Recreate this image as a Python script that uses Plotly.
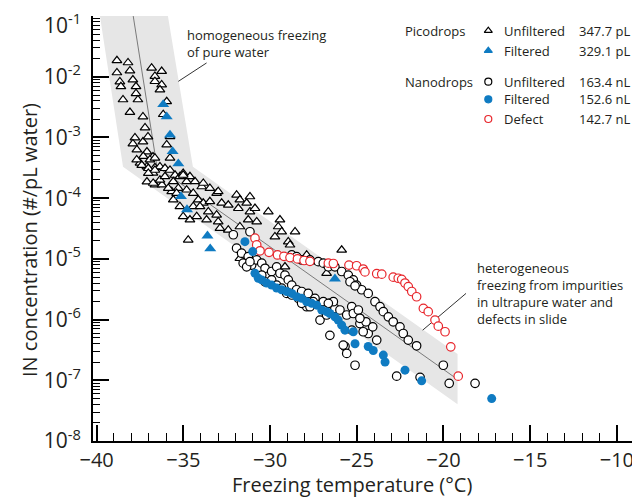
import plotly.graph_objects as go

# ---------------- data ----------------
pico_unf_T = [-38.83, -38.19, -38.83, -38.08, -37.91, -38.66, -38.60, -38.48, -37.73, -37.73,
              -37.62, -38.08, -37.33, -37.21, -37.79, -37.33, -37.04, -37.91, -37.68, -37.10,
              -36.75, -37.50, -37.10, -36.64, -36.35, -36.75, -37.10, -36.64, -36.23, -36.83,
              -36.25, -36.64, -36.64, -36.25, -36.35, -35.96, -36.16, -35.77, -35.77, -35.96,
              -37.31, -36.93, -36.64, -37.40, -37.02, -36.64, -36.06, -35.77, -35.48, -36.74,
              -36.35, -36.06, -35.58, -35.20, -35.01, -34.81, -34.33, -33.94, -33.47, -33.08,
              -35.67, -35.29, -34.81, -34.43, -34.14, -33.85, -33.47, -35.58, -35.20, -34.43,
              -34.04, -33.56, -33.08, -35.01, -34.62, -34.23, -33.66, -32.99, -32.89, -32.41,
              -31.74, -32.79, -32.41, -31.93, -31.74, -31.35, -31.16, -31.83, -31.16, -30.87,
              -31.26, -30.77, -30.10, -29.43, -29.53, -29.72, -29.33, -34.72, -28.56, -28.95,
              -28.85, -31.74, -29.14, -27.89, -27.70, -25.87, -26.74, -37.69, -37.02, -35.87,
              -35.39, -34.62, -33.85, -32.99, -35.01]
pico_unf_N = [1.85e-2, 1.71e-2, 1.17e-2, 1.26e-2, 8.9e-3, 8.3e-3, 6.9e-3, 4.2e-3, 6.9e-3, 5.3e-3,
              4.2e-3, 2.6e-3, 2.2e-3, 1.45e-3, 9.9e-4, 8.5e-4, 1.03e-3, 7.9e-4, 6.3e-4, 5.8e-4,
              4.8e-4, 3.8e-4, 3.3e-4, 3.2e-4, 3.3e-4, 2.6e-4, 1.86e-4, 1.66e-4, 1.66e-4, 1.40e-2,
              1.23e-2, 1.02e-2, 8.4e-3, 7.4e-3, 6.1e-3, 3.9e-3, 2.4e-3, 1.04e-3, 4.6e-4, 7.6e-4,
              4.9e-4, 4.3e-4, 4.6e-4, 3.5e-4, 3.1e-4, 2.9e-4, 3.1e-4, 2.9e-4, 2.4e-4, 1.77e-4,
              2.0e-4, 2.27e-4, 1.88e-4, 2.27e-4, 2.58e-4, 1.88e-4, 1.88e-4, 1.55e-4, 1.46e-4, 1.21e-4,
              1.29e-4, 1.46e-4, 1.37e-4, 1.21e-4, 9.4e-5, 8.3e-5, 8.8e-5, 9.4e-5, 7.3e-5, 7.3e-5,
              7.3e-5, 6.0e-5, 5.3e-5, 5.0e-5, 4.4e-5, 5.0e-5, 4.4e-5, 4.1e-5, 3.2e-5, 3.0e-5,
              3.4e-5, 8.3e-5, 7.7e-5, 1.13e-4, 9.4e-5, 8.3e-5, 1.06e-4, 6.8e-5, 6.0e-5, 6.8e-5,
              4.4e-5, 4.1e-5, 6.0e-5, 4.4e-5, 3.4e-5, 2.32e-5, 2.8e-5, 2.05e-5, 2.8e-5, 1.92e-5,
              1.7e-5, 1.02e-5, 7.4e-6, 1.16e-5, 9.0e-6, 1.4e-5, 5.8e-6, 4.3e-4, 2.58e-4, 1.46e-4,
              1.21e-4, 2.27e-4, 1.77e-4, 1.29e-4, 2.4e-4]

pico_fil_T = [-36.16, -35.96, -35.77, -35.62, -35.29, -35.14, -34.79, -33.61, -33.45, -26.26]
pico_fil_N = [3.5e-3, 2.2e-3, 1.1e-3, 5.9e-4, 3.7e-4, 1.07e-4, 6.5e-5, 2.4e-5, 1.47e-5, 4.7e-6]

nano_unf_T = [-32.12, -31.16, -31.93, -31.64, -31.26, -31.06, -30.77, -30.48, -30.29, -29.91,
              -29.62, -29.43, -29.14, -28.95, -28.75, -28.47, -28.18, -27.80, -27.41, -26.93,
              -26.55, -26.26, -25.97, -25.58, -28.75, -28.47, -28.18, -27.70, -27.22, -26.93,
              -26.64, -26.26, -25.87, -25.49, -25.20, -25.01, -24.72, -24.34, -23.95, -23.66,
              -23.47, -23.18, -22.90, -22.51, -22.32, -22.03, -21.55, -20.01, -19.67, -18.18,
              -22.70, -21.35, -25.10, -25.68, -25.58, -26.55, -24.82, -24.34, -23.85, -24.63,
              -25.29, -25.20, -27.12, -27.89, -27.51, -26.35, -26.64, -30.48, -30.29, -29.91,
              -29.62, -29.33, -29.04, -28.75, -28.37, -28.18, -27.70, -26.93, -26.74, -31.55,
              -31.35, -31.16, -25.78, -25.29, -24.08, -24.47, -24.91, -24.82, -25.39, -25.10]
nano_unf_N = [2.5e-5, 2.8e-5, 1.5e-5, 1.24e-5, 1.09e-5, 7.9e-6, 9.6e-6, 8.5e-6, 7.0e-6, 6.2e-6,
              7.4e-6, 5.8e-6, 5.4e-6, 4.5e-6, 3.7e-6, 3.1e-6, 2.9e-6, 2.7e-6, 2.24e-6, 1.97e-6,
              1.85e-6, 1.53e-6, 1.44e-6, 1.19e-6, 1.16e-5, 1.09e-5, 9.6e-6, 9.6e-6, 9.0e-6, 8.5e-6,
              7.4e-6, 7.4e-6, 6.2e-6, 5.4e-6, 4.5e-6, 3.7e-6, 3.1e-6, 2.7e-6, 1.97e-6, 1.63e-6,
              1.35e-6, 1.11e-6, 9.2e-7, 7.6e-7, 5.9e-7, 4.6e-7, 3.7e-7, 1.77e-7, 8.9e-8, 8.9e-8,
              1.17e-7, 1.12e-7, 1.77e-7, 3.6e-7, 2.77e-7, 5.5e-7, 8.6e-7, 5.9e-7, 4.6e-7, 6.3e-7,
              1.63e-6, 1.26e-6, 9.8e-7, 1.63e-6, 1.97e-6, 1.97e-6, 1.85e-6, 5.4e-6, 4.2e-6, 4.5e-6,
              3.7e-6, 3.3e-6, 2.7e-6, 2.54e-6, 2.24e-6, 1.85e-6, 1.63e-6, 1.44e-6, 1.19e-6, 8.5e-6,
              7.4e-6, 9.0e-6, 3.8e-7, 6.7e-7, 7.6e-7, 9.2e-7, 1.44e-6, 1.05e-6, 4.2e-6, 3.6e-6]

nano_fil_T = [-31.45, -31.00, -30.87, -30.68, -30.48, -30.20, -29.91, -29.62, -29.33, -29.04,
              -28.75, -28.47, -28.18, -27.89, -27.60, -27.31, -27.02, -26.74, -26.55, -26.26,
              -26.07, -25.87, -25.68, -25.20, -25.10, -24.34, -24.05, -23.47, -23.37, -22.22,
              -21.26, -17.22]
nano_fil_N = [1.92e-5, 1.32e-5, 5.8e-6, 4.8e-6, 4.5e-6, 4.0e-6, 3.7e-6, 3.3e-6, 3.1e-6, 2.9e-6,
              2.7e-6, 2.38e-6, 2.24e-6, 1.97e-6, 1.85e-6, 1.73e-6, 1.44e-6, 1.35e-6, 1.26e-6, 1.11e-6,
              9.8e-7, 8.1e-7, 6.7e-7, 6.3e-7, 4.0e-7, 3.6e-7, 3.1e-7, 2.6e-7, 2.0e-7, 1.47e-7,
              9.8e-8, 5.0e-8]

nano_def_T = [-30.87, -30.77, -30.58, -30.06, -29.57, -29.20, -28.85, -28.42, -28.04, -27.70,
              -26.64, -26.35, -25.45, -25.01, -24.63, -24.53, -23.85, -23.56, -22.90, -22.61,
              -22.41, -22.22, -22.03, -21.83, -21.55, -21.16, -20.88, -20.49, -20.30, -19.91,
              -19.58, -19.15]
nano_def_N = [2.19e-5, 1.7e-5, 1.36e-5, 1.28e-5, 1.16e-5, 1.1e-5, 1.05e-5, 1.0e-5, 9.4e-6, 9.1e-6,
              8.5e-6, 8.4e-6, 7.9e-6, 7.7e-6, 6.8e-6, 6.1e-6, 5.7e-6, 5.6e-6, 5.0e-6, 4.8e-6,
              4.6e-6, 4.0e-6, 3.5e-6, 2.9e-6, 2.38e-6, 1.53e-6, 1.35e-6, 9.8e-7, 7.8e-7, 6.3e-7,
              3.56e-7, 1.17e-7]

# guide band (homogeneous + heterogeneous regimes) and its centre line
band_T = [-39.81, -35.89, -34.45, -19.19, -19.19, -38.48, -39.81]
band_N = [1e-1, 1e-1, 3.28e-4, 2.70e-7, 4.04e-8, 3.28e-4, 1e-1]
center_T = [-37.89, -36.52, -19.22]
center_N = [1e-1, 3.28e-4, 1.05e-7]

# leader lines for the two labels
lead_homo_T = [-35.29, -33.66]
lead_homo_N = [8.4e-3, 1.69e-2]
lead_het_T = [-21.20, -18.70]
lead_het_N = [6.7e-7, 2.7e-6]

x_ticks = [-40, -35, -30, -25, -20, -15, -10]
x_ticktext = ["\u221240", "\u221235", "\u221230", "\u221225", "\u221220", "\u221215", "\u221210"]
y_ticks = [1e-8, 1e-7, 1e-6, 1e-5, 1e-4, 1e-3, 1e-2, 1e-1]
# top label (10^-1) is drawn as an annotation just below its tick so it is not clipped
y_ticktext = ["10<sup>-8</sup>", "10<sup>-7</sup>", "10<sup>-6</sup>", "10<sup>-5</sup>",
              "10<sup>-4</sup>", "10<sup>-3</sup>", "10<sup>-2</sup>", ""]
y_top_label = "10<sup>-1</sup>"

legend_groups = ["Picodrops", "Nanodrops"]
legend_labels = ["Unfiltered", "Filtered", "Unfiltered", "Filtered", "Defect"]
legend_volumes = ["347.7 pL", "329.1 pL", "163.4 nL", "152.6 nL", "142.7 nL"]

BLUE = "#0f7bc2"
RED = "#e8262c"
TXT = "#231f20"
FONT = "Open Sans"

fig = go.Figure()

fig.add_trace(go.Scatter(x=band_T, y=band_N, mode="lines", fill="toself",
                         fillcolor="#e6e6e6", line=dict(width=0), hoverinfo="skip"))
fig.add_trace(go.Scatter(x=center_T, y=center_N, mode="lines",
                         line=dict(color="#7a7a7a", width=1), hoverinfo="skip"))
fig.add_trace(go.Scatter(x=lead_homo_T, y=lead_homo_N, mode="lines",
                         line=dict(color="#333333", width=1), hoverinfo="skip"))
fig.add_trace(go.Scatter(x=lead_het_T, y=lead_het_N, mode="lines",
                         line=dict(color="#333333", width=1), hoverinfo="skip"))

fig.add_trace(go.Scatter(x=pico_unf_T, y=pico_unf_N, mode="markers",
                         marker=dict(symbol="triangle-up", size=8.5, color="white",
                                     line=dict(color="black", width=1.2))))
fig.add_trace(go.Scatter(x=nano_unf_T, y=nano_unf_N, mode="markers",
                         marker=dict(symbol="circle", size=8.5, color="white",
                                     line=dict(color="black", width=1.2))))
fig.add_trace(go.Scatter(x=nano_def_T, y=nano_def_N, mode="markers",
                         marker=dict(symbol="circle", size=8.5, color="white",
                                     line=dict(color=RED, width=1.2))))
fig.add_trace(go.Scatter(x=nano_fil_T, y=nano_fil_N, mode="markers",
                         marker=dict(symbol="circle", size=9, color=BLUE,
                                     line=dict(color=BLUE, width=0))))
fig.add_trace(go.Scatter(x=pico_fil_T, y=pico_fil_N, mode="markers",
                         marker=dict(symbol="triangle-up", size=10.5, color=BLUE,
                                     line=dict(color=BLUE, width=0))))

# custom legend (symbols on an overlay 0..1 axis pair)
leg_x = [0.7334] * 5
leg_y = [0.9654, 0.9184, 0.8454, 0.804, 0.7576]
leg_sym = ["triangle-up", "triangle-up", "circle", "circle", "circle"]
leg_fill = ["white", BLUE, "white", BLUE, "white"]
leg_line = ["black", BLUE, "black", BLUE, RED]
for i in range(5):
    fig.add_trace(go.Scatter(x=[leg_x[i]], y=[leg_y[i]], xaxis="x2", yaxis="y2", mode="markers",
                             cliponaxis=False,
                             marker=dict(symbol=leg_sym[i], size=7, color=leg_fill[i],
                                         line=dict(color=leg_line[i], width=1.2))))

ann = []
ann.append(dict(text="Picodrops", x=0.5757, y=0.9654))
ann.append(dict(text="Nanodrops", x=0.5757, y=0.8454))
for i in range(5):
    ann.append(dict(text=legend_labels[i], x=0.7583, y=leg_y[i]))
    ann.append(dict(text=legend_volumes[i], x=0.8974, y=leg_y[i]))
for a in ann:
    a.update(xref="paper", yref="paper", xanchor="left", yanchor="middle", showarrow=False,
             font=dict(family=FONT, size=13, color=TXT))

ann.append(dict(text="homogeneous freezing<br>of pure water", x=0.1707, y=0.9357,
                xref="paper", yref="paper", xanchor="left", yanchor="middle", align="left",
                showarrow=False, font=dict(family=FONT, size=13, color=TXT)))
ann.append(dict(text="heterogeneous<br>freezing from impurities<br>in ultrapure water and<br>defects in slide",
                x=0.7087, y=0.3475, xref="paper", yref="paper", xanchor="left", yanchor="middle",
                align="left", showarrow=False, font=dict(family=FONT, size=13, color=TXT)))
ann.append(dict(text="Freezing temperature (\u00b0C)", x=0.4796, y=-0.1035,
                xref="paper", yref="paper", xanchor="center", yanchor="middle",
                showarrow=False, font=dict(family=FONT, size=20, color=TXT)))
ann.append(dict(text="IN concentration (#/pL water)", x=-0.1169, y=0.473, textangle=-90,
                xref="paper", yref="paper", xanchor="center", yanchor="middle",
                showarrow=False, font=dict(family=FONT, size=20, color=TXT)))
ann.append(dict(text=y_top_label, x=-0.0186, y=0.9815, xref="paper", yref="paper",
                xanchor="right", yanchor="middle", showarrow=False,
                font=dict(family=FONT, size=21, color=TXT)))

# the page body adds an 8 px offset; the figure is sized so the plot box
# lands at x 93..632, y 16..441 in the 640x499 window
fig.update_layout(
    width=632, height=491,
    margin=dict(l=85, r=8, t=8, b=58, autoexpand=False),
    paper_bgcolor="white", plot_bgcolor="white",
    showlegend=False,
    annotations=ann,
    font=dict(family=FONT, color=TXT),
    xaxis=dict(range=[-40.21, -9.13], tickmode="array", tickvals=x_ticks, ticktext=x_ticktext,
               ticks="inside", ticklen=16, tickwidth=1.5, tickcolor="black",
               showline=True, linecolor="black", linewidth=1.8, showgrid=False, zeroline=False,
               automargin=False, ticklabeloverflow="allow",
               tickfont=dict(family=FONT, size=20, color=TXT),
               minor=dict(dtick=1, tick0=-40, ticks="inside", ticklen=8, tickwidth=1.2,
                          tickcolor="black", showgrid=False)),
    yaxis=dict(type="log", range=[-8, -0.999], tickmode="array", tickvals=y_ticks, ticktext=y_ticktext,
               ticks="inside", ticklen=16, tickwidth=1.5, tickcolor="black",
               showline=True, linecolor="black", linewidth=1.8, showgrid=False, zeroline=False,
               automargin=False, ticklabelstandoff=6, ticklabeloverflow="allow",
               tickfont=dict(family=FONT, size=21, color=TXT),
               minor=dict(dtick="D1", ticks="inside", ticklen=7, tickwidth=1.2,
                          tickcolor="black", showgrid=False)),
    xaxis2=dict(overlaying="x", range=[0, 1], visible=False, automargin=False),
    yaxis2=dict(overlaying="y", range=[0, 1], visible=False, automargin=False),
)

fig.write_html("out.html")
